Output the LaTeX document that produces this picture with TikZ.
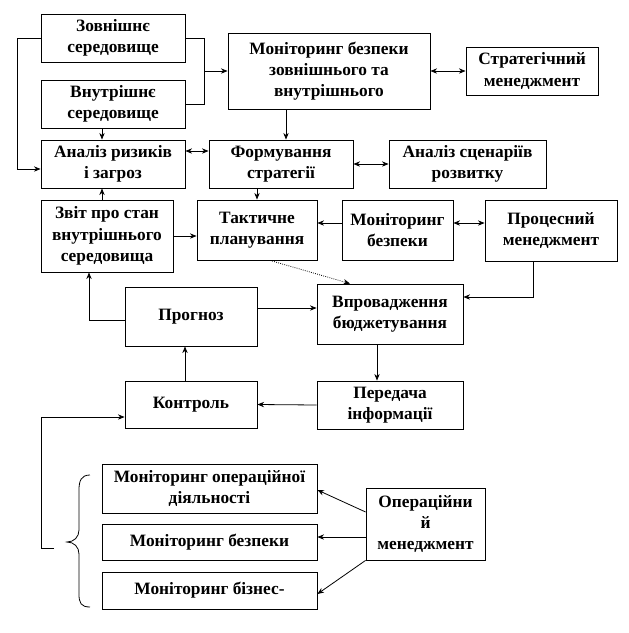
\documentclass[tikz,border=0pt]{standalone}
\usepackage{fontspec}
\setmainfont{Liberation Serif}
\usetikzlibrary{arrows.meta}

\begin{document}
\begin{tikzpicture}[
    x=0.75pt,y=-0.75pt,
    box/.style={draw=black,line width=0.6pt,align=center,inner sep=1pt,
      font=\bfseries\fontsize{13}{16}\selectfont},
    sz/.style 2 args={minimum width=#1*0.75pt,minimum height=#2*0.75pt},
    arr/.style={-{Stealth[length=5pt,width=4pt]},line width=0.6pt},
    dbl/.style={{Stealth[length=5pt,width=4pt]}-{Stealth[length=5pt,width=4pt]},line width=0.6pt},
    link/.style={line width=0.6pt}]
    \useasboundingbox (0,0) rectangle (629,633);
    % strategic level
    \node[box,sz={144}{48}] (zov) at (113,38) {Зовнішнє\\середовище};
    \node[box,sz={144}{48}] (vnu) at (113,104) {Внутрішнє\\середовище};
    \node[box,sz={144}{48}] (anal) at (113,164) {Аналіз ризиків\\і загроз};
    \node[box,sz={202}{76}] (mon) at (329,71) {Моніторинг безпеки\\зовнішнього та\\внутрішнього};
    \node[box,sz={132}{48}] (strat) at (532,71) {Стратегічний\\менеджмент};
    \node[box,sz={144}{48}] (form) at (281,164) {Формування\\стратегії};
    \node[box,sz={157}{48}] (scen) at (467.5,164) {Аналіз сценаріїв\\розвитку};
    % tactical level
    \node[box,sz={132}{72}] (zvit) at (107,236) {Звіт про стан\\внутрішнього\\середовища};
    \node[box,sz={120}{60}] (takt) at (257,230) {Тактичне\\планування};
    \node[box,sz={111}{60}] (monb) at (397.5,230) {Моніторинг\\безпеки};
    \node[box,sz={132}{61}] (proc) at (551,230.5) {Процесний\\менеджмент};
    \node[box,sz={132}{59}] (prog) at (191,316.5) {Прогноз};
    \node[box,sz={146}{60}] (vpr) at (390,314) {Впровадження\\бюджетування};
    \node[box,sz={132}{47}] (kontr) at (191,404.5) {Контроль};
    \node[box,sz={146}{48}] (pered) at (390,405) {Передача\\інформації};
    % operational level
    \node[box,sz={215}{49}] (mop) at (209.5,488.5) {Моніторинг операційної\\діяльності};
    \node[box,sz={215}{36}] (mbz) at (209.5,542) {Моніторинг безпеки};
    \node[box,sz={215}{37}] (mbp) at (209.5,590.5) {Моніторинг бізнес-};
    \node[box,sz={119}{72}] (oper) at (425.5,524) {Операційни\\й\\менеджмент};
    \coordinate (braceend) at (54,548);
    % connectors
    \draw[arr] (zov.west) -| (17,169) -- (anal.west |- 17,169);
    \draw[link] (zov.east) -| (204,71);
    \draw[link] (vnu.east) -| (204,71);
    \draw[arr] (204,71) -- (mon.west);
    \draw[dbl] (mon.east) -- (strat.west);
    \draw[arr] (vnu.south -| 102,0) -- (anal.north -| 102,0);
    \draw[arr] (zvit.north -| 102,0) -- (anal.south -| 102,0);
    \draw[dbl] (anal.east |- 0,151) -- (form.west |- 0,151);
    \draw[arr] (mon.south -| 286,0) -- (form.north -| 286,0);
    \draw[dbl] (form.east) -- (scen.west);
    \draw[arr] (form.south -| takt.north) -- (takt.north);
    \draw[arr] (zvit.east) -- (zvit.east -| takt.west);
    \draw[arr] (monb.west |- 0,223) -- (takt.east |- 0,223);
    \draw[dbl] (monb.east |- 0,223) -- (proc.west |- 0,223);
    \draw[arr] (proc.south -| 533,0) |- (vpr.east |- 0,297);
    \draw[arr,densely dotted] (takt.south -| 270,0) -- (vpr.north -| 350,0);
    \draw[arr] (prog.east |- 0,308) -- (vpr.west |- 0,308);
    \draw[arr] (prog.west |- 0,320) -| (zvit.south -| 89,0);
    \draw[arr] (kontr.north -| 185,0) -- (prog.south -| 185,0);
    \draw[arr] (vpr.south -| 377,0) -- (pered.north -| 377,0);
    \draw[arr] (pered.west) -- (kontr.east);
    \draw[arr] (braceend) -| (41,417) -- (kontr.west |- 0,417);
    \draw[arr] (oper.west |- 0,512) -- (mop.east |- 0,490);
    \draw[arr] (oper.west |- 0,537) -- (mbz.east |- 0,537);
    \draw[arr] (oper.south west) -- (mbp.east |- 0,594);
    % brace
    \draw[link] (90,475) .. controls (81,475) and (79,481) .. (79,490) -- (79,530)
      .. controls (79,537) and (74,542) .. (67,542)
      .. controls (74,542) and (79,547) .. (79,554) -- (79,594)
      .. controls (79,603) and (81,607) .. (90,607);
\end{tikzpicture}
\end{document}
